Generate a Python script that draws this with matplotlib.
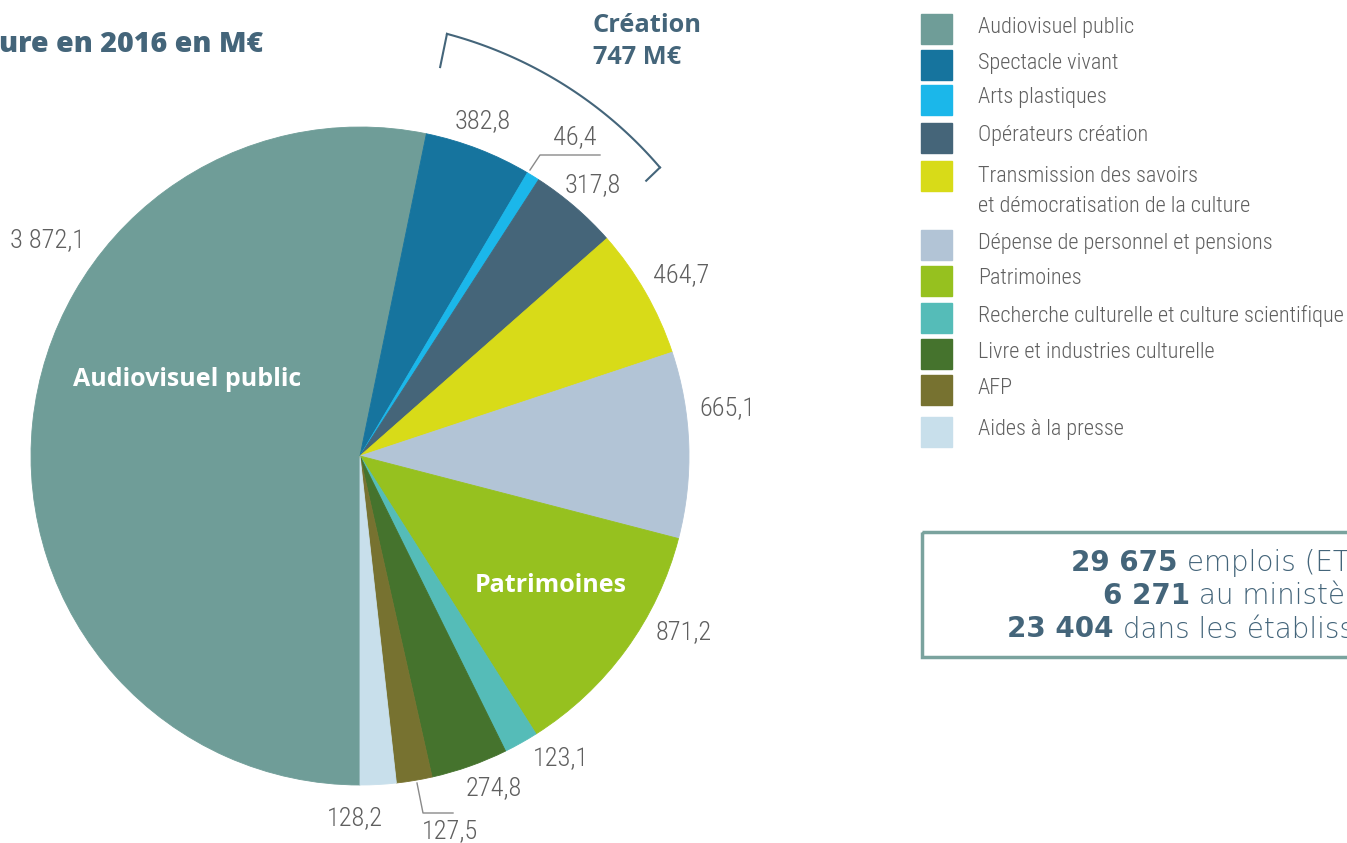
import matplotlib
matplotlib.use("Agg")
import matplotlib.pyplot as plt
from matplotlib.patches import Rectangle
import numpy as np

# Données (M€)
categories = ["Audiovisuel public", "Spectacle vivant", "Arts plastiques",
              "Opérateurs création",
              "Transmission des savoirs\net démocratisation de la culture",
              "Dépense de personnel et pensions", "Patrimoines",
              "Recherche culturelle et culture scientifique",
              "Livre et industries culturelle", "AFP", "Aides à la presse"]
valeurs = [3872.1, 382.8, 46.4, 317.8, 464.7, 665.1, 871.2, 123.1, 274.8, 127.5, 128.2]
couleurs = ["#6f9d98", "#16749e", "#1bb7ea", "#456579", "#d8db18", "#b2c4d6",
            "#96c11f", "#55bcb8", "#45732d", "#777230", "#c8dfeb"]

# positions des étiquettes (pixels)
pos_etiquettes = [(47, 240), (483, 121), (575, 137), (593, 185), (681, 275),
                  (727, 408), (684, 632), (561, 758), (494, 788), (450, 831), (355, 818)]
lignes_legende = [29, 65, 100, 138, 176, 245, 281, 318, 354, 390, 432]

emplois = [("29 675", " emplois (ETP)"), ("6 271", " au ministère"),
           ("23 404", " dans les établissements publics")]

W, H = 1347, 843
GRIS = "#5f5f5f"
BLEU = "#44657a"
NARROW = ["Roboto Condensed", "DejaVu Sans"]
TITRE = ["Open Sans", "Lato", "DejaVu Sans"]

fig = plt.figure(figsize=(W / 100, H / 100), dpi=100)

# camembert
cx, cy, r = 360, 456, 329
ax = fig.add_axes([(cx - r) / W, (H - cy - r) / H, 2 * r / W, 2 * r / H])
wedges, _ = ax.pie(valeurs, colors=couleurs, startangle=270, counterclock=False,
                   wedgeprops=dict(linewidth=0.6))
for w, c in zip(wedges, couleurs):
    w.set_edgecolor(c)
ax.set_xlim(-1, 1)
ax.set_ylim(-1, 1)
ax.set_aspect("equal")
ax.axis("off")

# accolade "Création" (Spectacle vivant -> Opérateurs création)
t_debut = wedges[1].theta2
t_fin = wedges[3].theta1 + 2.5
th = np.radians(np.linspace(t_debut, t_fin, 100))
ra = np.linspace(1.31, 1.265, 100)
rb = 1.207
ax.plot(ra * np.cos(th), ra * np.sin(th), color=BLEU, lw=1.5, clip_on=False)
for t, rr in ((th[0], ra[0]), (th[-1], ra[-1])):
    ax.plot([rr * np.cos(t), rb * np.cos(t)], [rr * np.sin(t), rb * np.sin(t)],
            color=BLEU, lw=1.5, clip_on=False)

# calque en pixels pour textes et légende
ov = fig.add_axes([0, 0, 1, 1])
ov.set_xlim(0, W)
ov.set_ylim(H, 0)
ov.axis("off")
ov.patch.set_alpha(0)

for v, (x, y) in zip(valeurs, pos_etiquettes):
    txt = f"{v:,.1f}".replace(",", " ").replace(".", ",")
    ov.text(x, y, txt, ha="center", va="center", fontsize=19, color=GRIS,
            family=NARROW, fontweight="light")

# traits de rappel
ov.plot([530, 540, 600], [170, 155, 155], color="#8a8a8a", lw=1)
ov.plot([417, 423, 453], [783, 813, 813], color="#8a8a8a", lw=1)

ov.text(187, 379, "Audiovisuel public", ha="center", va="center", fontsize=18,
        color="white", fontweight="bold", family=TITRE)
ov.text(551, 585, "Patrimoines", ha="center", va="center", fontsize=18,
        color="white", fontweight="bold", family=TITRE)

ov.text(-1, 45, "ure en 2016 en M€", ha="left", va="center", fontsize=20.5,
        color=BLEU, fontweight="heavy", family=TITRE)
ov.text(593, 25, "Création", ha="left", va="center", fontsize=18.3,
        color=BLEU, fontweight="bold", family=TITRE)
ov.text(593, 57, "747 M€", ha="left", va="center", fontsize=18.3,
        color=BLEU, fontweight="bold", family=TITRE)

# légende
for cat, c, y in zip(categories, couleurs, lignes_legende):
    ov.add_patch(Rectangle((921, y - 15), 31, 30, color=c))
    if "\n" in cat:
        l1, l2 = cat.split("\n")
        ov.text(978, y + 1, l1, ha="left", va="center", fontsize=16, color=GRIS,
                family=NARROW, fontweight="light")
        ov.text(978, y + 30, l2, ha="left", va="center", fontsize=16, color=GRIS,
                family=NARROW, fontweight="light")
    else:
        ov.text(978, y - 2, cat, ha="left", va="center", fontsize=16, color=GRIS,
                family=NARROW, fontweight="light")

# encadré emplois
ov.add_patch(Rectangle((922, 532), 500, 125, fill=False, edgecolor="#7aa39e", lw=2.5))
for (nb, reste), (x, y) in zip(emplois, [(1071, 563), (1103, 596), (1007, 629)]):
    t = ov.text(x, y, nb, ha="left", va="center", fontsize=20, color=BLEU,
                fontweight="bold", family="DejaVu Sans")
    ov.annotate(reste, xy=(1, 0.5), xycoords=t, ha="left", va="center",
                fontsize=20, color=BLEU, fontweight="light", family="DejaVu Sans")

fig.savefig("out.png", dpi=100)
